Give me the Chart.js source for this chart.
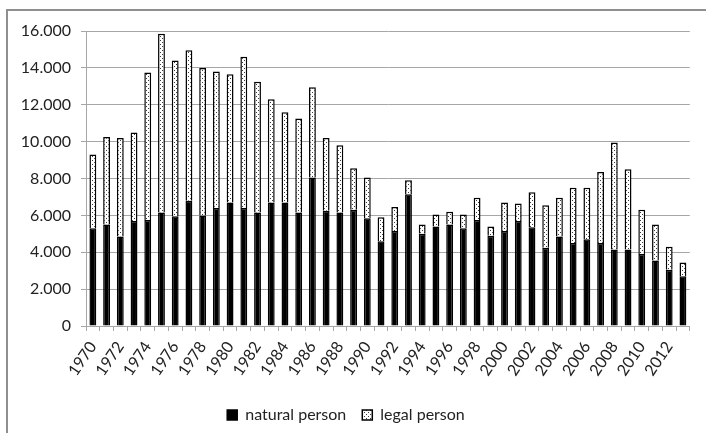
<!DOCTYPE html>
<html>
<head>
<meta charset="utf-8">
<script src="https://cdn.jsdelivr.net/npm/chart.js@4/dist/chart.umd.min.js"></script>
<style>
  html, body { margin: 0; padding: 0; background: #fff; overflow: hidden; }
  #frame { position: absolute; left: 6px; top: 9px; width: 800px; height: 500px;
           border-left: 2px solid #8f8f8f; border-top: 2px solid #8f8f8f; }
  #wrap { position: absolute; left: 0; top: 0; width: 706px; height: 433px; }
</style>
</head>
<body>
<div id="frame"></div>
<div id="wrap"><canvas id="registrationsChart" width="706" height="433"></canvas></div>
<script>
const years = ['1970', '1971', '1972', '1973', '1974', '1975', '1976', '1977', '1978', '1979',
    '1980', '1981', '1982', '1983', '1984', '1985', '1986', '1987', '1988', '1989',
    '1990', '1991', '1992', '1993', '1994', '1995', '1996', '1997', '1998', '1999',
    '2000', '2001', '2002', '2003', '2004', '2005', '2006', '2007', '2008', '2009',
    '2010', '2011', '2012', '2013'];

const naturalPerson = [5300, 5500, 4850, 5700, 5750, 6150, 5950, 6800, 6000, 6400,
    6700, 6400, 6150, 6700, 6700, 6150, 8050, 6250, 6150, 6300,
    5850, 4600, 5150, 7150, 5000, 5400, 5500, 5300, 5750, 4900,
    5150, 5700, 5350, 4250, 4850, 4500, 4700, 4500, 4150, 4150,
    3900, 3550, 3050, 2700];

const legalPerson = [4000, 4750, 5350, 4800, 8000, 9700, 8450, 8150, 8000, 7400,
    6950, 8200, 7100, 5600, 4900, 5100, 4900, 3950, 3650, 2250,
    2200, 1300, 1300, 750, 500, 650, 700, 750, 1200, 500,
    1550, 950, 1900, 2300, 2100, 3000, 2800, 3850, 5800, 4350,
    2400, 1950, 1250, 750];

const yTicks = [0, 2000, 4000, 6000, 8000, 10000, 12000, 14000, 16000];

// dotted fill like the excel "5%" pattern
function dotPattern() {
    const c = document.createElement('canvas');
    c.width = 4;
    c.height = 4;
    const g = c.getContext('2d');
    g.fillStyle = '#ffffff';
    g.fillRect(0, 0, 4, 4);
    g.fillStyle = '#3a3a3a';
    g.fillRect(0, 0, 1, 1);
    g.fillRect(2, 2, 1, 1);
    return g.createPattern(c, 'repeat');
}

const fontFamily = 'Lato, "Liberation Sans", sans-serif';
const ctx = document.getElementById('registrationsChart');

new Chart(ctx, {
    type: 'bar',
    data: {
        labels: years,
        datasets: [{
            label: 'natural person',
            data: naturalPerson,
            backgroundColor: '#000000',
            borderColor: '#000000',
            borderWidth: 1.5,
            barPercentage: 0.5,
            categoryPercentage: 1
        }, {
            label: 'legal person',
            data: legalPerson,
            backgroundColor: dotPattern(),
            borderColor: '#000000',
            borderWidth: 1.5,
            barPercentage: 0.5,
            categoryPercentage: 1
        }]
    },
    options: {
        responsive: false,
        animation: false,
        layout: { padding: { top: 31, right: 14, bottom: 0, left: 0 } },
        plugins: {
            tooltip: { enabled: false },
            legend: {
                position: 'bottom',
                labels: {
                    boxWidth: 10,
                    boxHeight: 10,
                    padding: 16,
                    color: '#222',
                    font: { family: fontFamily, size: 16 }
                }
            }
        },
        scales: {
            x: {
                stacked: true,
                grid: { drawOnChartArea: false, color: '#a6a6a6', tickLength: 5 },
                border: { color: '#a6a6a6' },
                ticks: {
                    autoSkip: false,
                    minRotation: 56,
                    maxRotation: 56,
                    padding: 7,
                    color: '#222',
                    font: { family: fontFamily, size: 16 },
                    callback: function (v, i) { return i % 2 === 0 ? years[i] : ''; }
                },
                afterFit: function (s) { s.height = 65; }
            },
            y: {
                stacked: true,
                min: 0,
                max: 16000,
                afterBuildTicks: function (s) { s.ticks = yTicks.map(v => ({ value: v })); },
                grid: { color: '#a6a6a6', tickLength: 5 },
                border: { color: '#a6a6a6' },
                ticks: {
                    padding: 10,
                    color: '#222',
                    font: { family: fontFamily, size: 16 },
                    callback: function (v) { return String(v).replace(/\B(?=(\d{3})+(?!\d))/g, '.'); }
                },
                afterFit: function (s) { s.width = 86; }
            }
        }
    }
});
</script>
</body>
</html>
